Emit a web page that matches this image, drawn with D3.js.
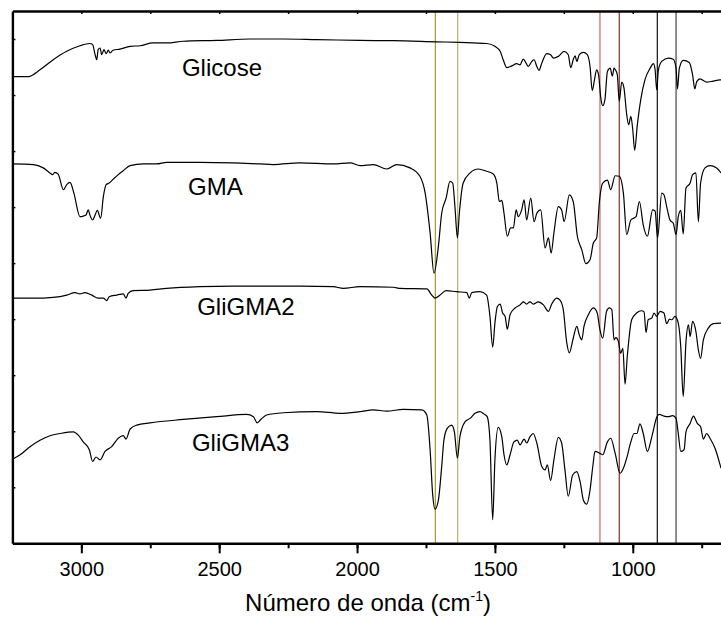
<!DOCTYPE html>
<html>
<head>
<meta charset="utf-8">
<script src="https://cdn.jsdelivr.net/npm/d3@7"></script>
<style>
  body { margin: 0; background: #fff; }
  svg { display: block; font-family: "Liberation Sans", Arial, sans-serif; }
</style>
</head>
<body>
<svg id="chart"></svg>
<script>
// FTIR spectra, [wavenumber (cm-1), transmittance (offset, a.u.)]
const glicose = [
  [3250,83.3],[3192,83.3],[3150,84.5],[3102,86.3],[3053,87.8],[3005,88.8],[2969,89.2],[2959,89.0],
  [2950,87.2],[2944,86.3],[2939,88.1],[2932,88.4],[2926,87.2],[2918,88.1],[2910,87.4],[2902,88.0],
  [2896,87.5],[2885,88.0],[2860,88.2],[2823,88.7],[2787,88.8],[2740,89.3],[2690,89.3],[2631,89.6],
  [2509,89.75],[2388,90.0],[2269,90.0],[2146,89.9],[1989,89.75],[1870,89.7],[1711,89.5],[1627,89.4],
  [1530,89.2],[1500,88.7],[1481,87.8],[1470,86.3],[1457,84.9],[1439,85.2],[1421,85.6],[1409,85.4],
  [1397,86.4],[1387,85.7],[1379,85.1],[1366,86.0],[1358,86.3],[1348,85.1],[1340,84.4],[1330,85.7],
  [1312,87.4],[1298,87.2],[1288,86.6],[1270,86.9],[1249,87.8],[1234,87.2],[1225,84.9],[1216,86.3],
  [1209,87.0],[1203,86.0],[1194,87.2],[1179,87.6],[1165,87.2],[1155,85.1],[1147,80.8],[1139,82.7],
  [1131,84.5],[1124,83.6],[1116,79.5],[1109,78.1],[1101,79.2],[1092,84.2],[1082,84.8],[1074,83.4],
  [1068,84.8],[1063,84.5],[1056,83.6],[1049,78.9],[1040,82.3],[1032,81.3],[1022,76.5],[1015,74.7],
  [1007,76.2],[1000,73.8],[993,70.1],[984,74.4],[971,79.2],[956,82.7],[937,84.8],[925,85.6],
  [919,84.5],[913,80.9],[907,84.5],[895,86.0],[871,86.6],[853,86.4],[843,84.8],[838,81.1],
  [831,84.8],[817,86.2],[795,85.8],[783,83.6],[775,81.1],[768,82.4],[756,82.9],[732,82.3],
  [708,82.5],[684,82.7],[680,82.7]
];
const gma = [
  [3250,67.7],[3174,67.6],[3138,67.0],[3114,66.1],[3104,65.8],[3096,66.2],[3084,65.9],[3065,63.1],
  [3053,64.0],[3041,64.4],[3027,62.5],[3005,58.3],[2993,58.4],[2983,58.6],[2975,59.5],[2969,58.6],
  [2959,57.7],[2950,58.6],[2942,59.4],[2930,58.0],[2920,61.9],[2910,64.0],[2899,64.3],[2884,65.0],
  [2866,65.8],[2848,66.5],[2823,67.4],[2775,67.7],[2727,67.7],[2690,68.0],[2570,68.0],[2450,67.9],
  [2352,67.7],[2304,67.6],[2207,67.9],[2086,67.7],[2025,67.9],[1989,67.4],[1941,67.6],[1892,66.8],
  [1856,67.6],[1808,67.0],[1772,65.5],[1753,62.5],[1735,55.4],[1721,48.2],[1705,53.0],[1693,58.9],
  [1677,61.6],[1663,64.6],[1653,64.3],[1645,60.1],[1636,54.5],[1629,58.9],[1615,64.3],[1590,66.1],
  [1560,66.8],[1530,66.4],[1506,65.9],[1493,64.3],[1484,61.0],[1475,61.2],[1467,58.9],[1455,54.8],
  [1443,56.3],[1433,56.3],[1423,59.5],[1415,58.3],[1403,59.5],[1394,61.3],[1385,57.7],[1370,61.6],
  [1358,57.4],[1348,58.9],[1334,59.5],[1318,52.7],[1306,54.5],[1296,51.8],[1286,55.4],[1270,60.1],
  [1258,59.5],[1249,57.4],[1230,62.2],[1216,61.0],[1201,54.8],[1185,52.4],[1170,49.9],[1155,50.6],
  [1143,53.6],[1131,54.5],[1121,61.0],[1109,64.3],[1092,64.8],[1080,63.1],[1064,65.6],[1049,65.5],
  [1034,62.5],[1022,55.1],[1007,57.7],[988,58.3],[976,61.0],[962,56.8],[947,54.8],[928,59.5],
  [919,59.3],[910,54.5],[895,62.5],[887,62.2],[877,60.1],[865,57.7],[853,57.1],[843,55.1],
  [835,58.3],[826,59.4],[817,55.2],[807,63.4],[792,64.3],[783,65.8],[771,66.1],[762,57.4],
  [754,64.3],[738,67.0],[720,67.4],[696,67.0],[680,66.1]
];
const gligma2 = [
  [3250,43.75],[3174,43.75],[3102,43.9],[3053,44.3],[3023,44.75],[3005,44.5],[2987,44.75],[2962,44.3],
  [2939,43.75],[2920,43.75],[2908,43.3],[2899,44.0],[2872,44.3],[2848,44.5],[2838,43.75],[2830,44.6],
  [2812,45.1],[2751,45.2],[2690,45.5],[2570,45.8],[2449,45.9],[2328,45.9],[2207,45.9],[2086,45.8],
  [2050,45.5],[1989,45.8],[1868,45.7],[1844,45.5],[1747,45.4],[1729,44.3],[1717,43.75],[1699,44.3],
  [1677,45.1],[1639,44.9],[1602,44.75],[1593,43.75],[1584,44.75],[1554,44.9],[1530,44.3],[1518,40.5],
  [1508,35.0],[1500,39.3],[1491,42.25],[1481,42.7],[1472,41.1],[1463,40.5],[1455,38.2],[1445,40.8],
  [1427,42.0],[1409,42.55],[1397,43.1],[1385,42.7],[1373,43.1],[1361,42.7],[1343,43.1],[1324,42.55],
  [1306,41.4],[1294,42.7],[1276,43.75],[1264,43.4],[1252,41.7],[1240,36.0],[1230,34.0],[1216,36.6],
  [1203,38.7],[1194,37.2],[1185,36.3],[1177,38.7],[1161,40.8],[1143,42.0],[1129,41.1],[1119,38.1],
  [1109,36.6],[1095,41.4],[1085,42.0],[1076,41.7],[1068,36.3],[1061,36.7],[1052,36.0],[1044,33.9],
  [1036,34.8],[1028,28.4],[1020,33.3],[1004,39.9],[986,41.1],[968,41.5],[959,41.3],[952,37.6],
  [944,39.9],[931,40.2],[923,41.1],[913,40.5],[901,41.4],[887,41.1],[877,39.2],[867,40.0],
  [858,39.9],[847,40.5],[835,39.3],[826,35.1],[817,26.2],[807,36.0],[798,39.0],[792,36.9],
  [783,39.6],[771,37.8],[762,34.5],[754,33.0],[744,36.3],[726,38.4],[708,39.2],[680,39.3]
];
const gligma3 = [
  [3250,15.0],[3222,15.8],[3186,17.25],[3150,18.4],[3114,19.2],[3077,19.6],[3029,19.9],[3011,19.3],
  [2993,18.1],[2971,16.7],[2959,14.6],[2947,15.4],[2932,14.9],[2914,16.4],[2890,17.25],[2866,18.75],
  [2848,19.2],[2838,18.6],[2823,20.4],[2799,21.1],[2751,21.5],[2630,22.1],[2509,22.6],[2400,23.0],
  [2376,22.6],[2362,21.5],[2349,22.1],[2328,22.9],[2267,23.3],[2146,23.5],[2062,23.2],[1989,23.5],
  [1941,23.8],[1892,23.6],[1832,23.9],[1765,23.8],[1747,22.9],[1735,16.7],[1726,8.9],[1717,6.1],
  [1705,7.7],[1693,13.7],[1685,18.4],[1673,20.5],[1657,21.1],[1647,19.9],[1636,15.2],[1627,19.0],
  [1608,21.7],[1590,22.3],[1572,23.2],[1554,23.5],[1540,23.1],[1528,22.6],[1518,18.4],[1508,4.2],
  [1500,14.9],[1488,20.7],[1475,19.0],[1467,15.8],[1457,14.0],[1445,15.8],[1431,18.1],[1419,18.4],
  [1409,17.55],[1394,18.6],[1385,17.9],[1373,19.0],[1361,19.6],[1348,17.9],[1330,13.7],[1318,13.1],
  [1310,14.0],[1298,11.2],[1286,14.9],[1270,18.9],[1258,17.9],[1246,13.1],[1234,8.4],[1218,12.2],
  [1203,12.8],[1191,11.0],[1179,7.7],[1167,7.0],[1155,9.5],[1145,13.7],[1137,16.4],[1121,16.1],
  [1109,15.8],[1092,18.1],[1080,18.75],[1064,16.1],[1046,12.5],[1034,13.4],[1022,15.2],[1007,18.1],
  [995,19.6],[985,19.6],[974,21.3],[962,19.6],[947,16.4],[931,19.0],[913,22.5],[904,23.0],
  [887,22.7],[871,22.6],[855,22.8],[843,22.3],[835,19.6],[826,16.4],[814,16.7],[807,19.9],
  [792,21.4],[780,22.7],[766,21.4],[754,20.8],[744,18.6],[732,19.6],[720,18.75],[702,17.0],[680,13.4]
];

const seriesNames = ["Glicose", "GMA", "GliGMA2", "GliGMA3"];
const seriesData = [glicose, gma, gligma2, gligma3];
// label anchor per series, in data units (wavenumber, transmittance)
const labelAnchors = [[2635, 83.4], [2613, 62.2], [2580, 40.8], [2599, 16.5]];

// marker lines (cm-1) and their colours
const markerWn = [1716, 1635, 1119, 1049, 911, 843];
const markerColors = ["#9c9c30", "#b4b468", "#c46a6a", "#8e2a2a", "#111111", "#444444"];

const majorTicks = [3000, 2500, 2000, 1500, 1000];
const minorTicks = [3000, 2750, 2500, 2250, 2000, 1750, 1500, 1250, 1000, 750];
const yTicks = [10, 20, 30, 40, 50, 60, 70, 80, 90];

const width = 721;
const height = 624;
const marginTop = 11;
const marginLeft = 12.4;
const plotBottom = 543.3;

const svg = d3.select("#chart")
    .attr("width", width)
    .attr("height", height)
    .attr("viewBox", [0, 0, width, height]);

const x = d3.scaleLinear([3250, 680], [marginLeft, width]);
const y = d3.scaleLinear([0, 95], [plotBottom, marginTop]);

svg.append("clipPath").attr("id", "plot")
  .append("rect")
    .attr("x", marginLeft).attr("y", marginTop)
    .attr("width", width - marginLeft).attr("height", plotBottom - marginTop);

// marker lines
svg.append("g")
  .selectAll("line")
  .data(markerWn)
  .join("line")
    .attr("x1", d => x(d)).attr("x2", d => x(d))
    .attr("y1", marginTop).attr("y2", plotBottom)
    .attr("stroke", (d, i) => markerColors[i])
    .attr("stroke-width", 1.2);

// spectra
const line = d3.line()
    .x(d => x(d[0]))
    .y(d => y(d[1]))
    .curve(d3.curveMonotoneX);

svg.append("g")
    .attr("clip-path", "url(#plot)")
  .selectAll("path")
  .data(seriesData)
  .join("path")
    .attr("fill", "none")
    .attr("stroke", "#000")
    .attr("stroke-width", 1.2)
    .attr("stroke-linejoin", "round")
    .attr("d", line);

svg.append("g")
  .selectAll("text")
  .data(seriesNames)
  .join("text")
    .attr("x", (d, i) => x(labelAnchors[i][0]))
    .attr("y", (d, i) => y(labelAnchors[i][1]))
    .attr("font-size", 24)
    .attr("fill", "#000")
    .text(d => d);

// bottom axis: minor then major
svg.append("g")
    .attr("transform", `translate(0,${plotBottom})`)
    .call(d3.axisBottom(x).tickValues(minorTicks).tickSize(5).tickFormat(""))
    .call(g => g.select(".domain").remove())
    .call(g => g.selectAll(".tick line").attr("stroke-width", 2));

svg.append("g")
    .attr("transform", `translate(0,${plotBottom})`)
    .call(d3.axisBottom(x).tickValues(majorTicks).tickSize(10).tickSizeOuter(0).tickPadding(9)
        .tickFormat(d3.format("d")))
    .call(g => g.select(".domain").attr("stroke-width", 2.4))
    .call(g => g.selectAll(".tick line").attr("stroke-width", 2))
    .call(g => g.selectAll(".tick text")
        .attr("font-size", 20)
        .attr("font-family", "Liberation Sans, Arial, sans-serif")
        .attr("fill", "#000"));

// top axis, small inward ticks
svg.append("g")
    .attr("transform", `translate(0,${marginTop})`)
    .call(d3.axisTop(x).tickValues(minorTicks).tickSize(-3).tickSizeOuter(0).tickFormat(""))
    .call(g => g.select(".domain").attr("stroke-width", 2.4))
    .call(g => g.selectAll(".tick line").attr("stroke-width", 1.5));

// left axis, small inward ticks, no labels
svg.append("g")
    .attr("transform", `translate(${marginLeft},0)`)
    .call(d3.axisLeft(y).tickValues(yTicks).tickSize(-3).tickSizeOuter(0).tickFormat(""))
    .call(g => g.select(".domain").attr("stroke-width", 2.4))
    .call(g => g.selectAll(".tick line").attr("stroke-width", 1.5));

// x axis title
const title = svg.append("text")
    .attr("x", 368)
    .attr("y", 611)
    .attr("text-anchor", "middle")
    .attr("font-size", 24)
    .attr("fill", "#000");
title.append("tspan").text("Número de onda (cm");
title.append("tspan").attr("font-size", 14).attr("dy", -10).text("-1");
title.append("tspan").attr("dy", 10).text(")");
</script>
</body>
</html>
